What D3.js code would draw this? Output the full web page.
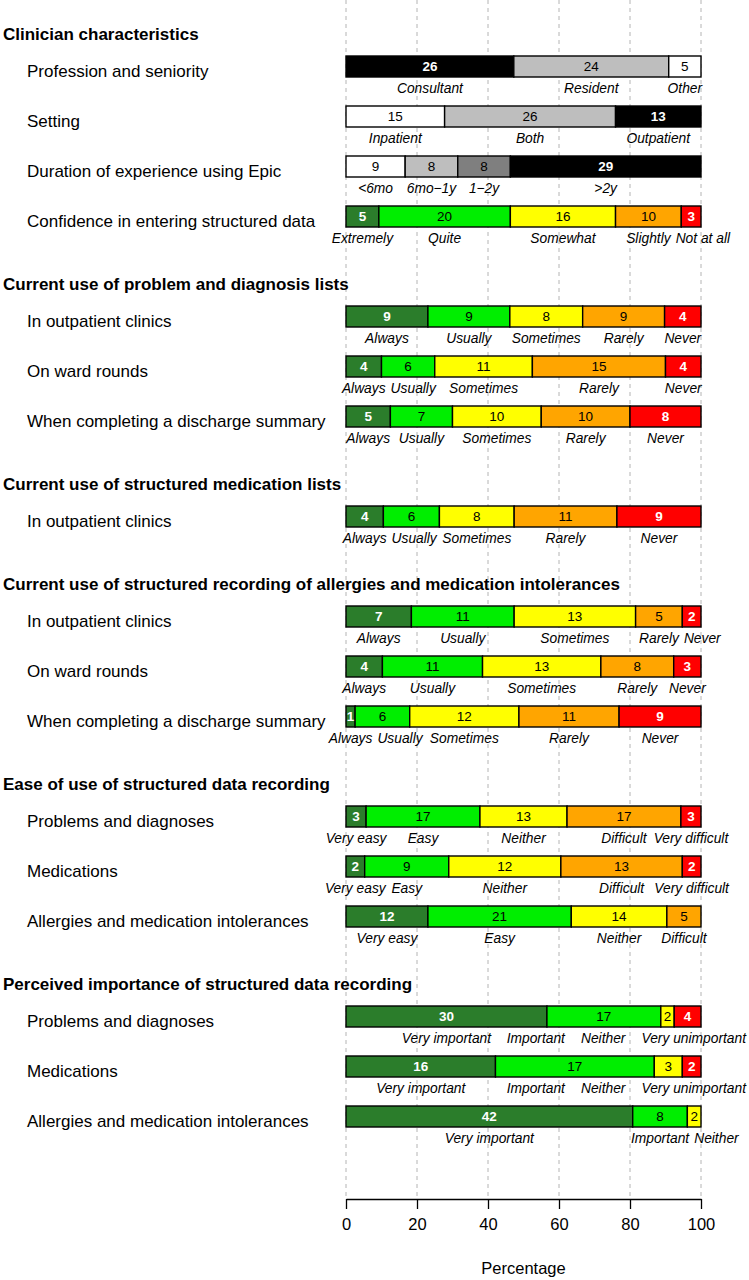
<!DOCTYPE html>
<html>
<head>
<meta charset="utf-8">
<title>Structured data survey</title>
<script src="https://d3js.org/d3.v7.min.js"></script>
<style>
    body { margin: 0; background: #fff; }
    text { font-family: "Liberation Sans", Arial, sans-serif; }
</style>
</head>
<body>
<div id="chart"></div>
<script>
// section headings
var sections = [
    "Clinician characteristics",
    "Current use of problem and diagnosis lists",
    "Current use of structured medication lists",
    "Current use of structured recording of allergies and medication intolerances",
    "Ease of use of structured data recording",
    "Perceived importance of structured data recording"
];

// one entry per bar
var questions = [
    "Profession and seniority",
    "Setting",
    "Duration of experience using Epic",
    "Confidence in entering structured data",
    "In outpatient clinics",
    "On ward rounds",
    "When completing a discharge summary",
    "In outpatient clinics",
    "In outpatient clinics",
    "On ward rounds",
    "When completing a discharge summary",
    "Problems and diagnoses",
    "Medications",
    "Allergies and medication intolerances",
    "Problems and diagnoses",
    "Medications",
    "Allergies and medication intolerances"
];
var questionSection = [0, 0, 0, 0, 1, 1, 1, 2, 3, 3, 3, 4, 4, 4, 5, 5, 5];

var answers = [
    ["Consultant", "Resident", "Other"],
    ["Inpatient", "Both", "Outpatient"],
    ["<6mo", "6mo\u22121y", "1\u22122y", ">2y"],
    ["Extremely", "Quite", "Somewhat", "Slightly", "Not at all"],
    ["Always", "Usually", "Sometimes", "Rarely", "Never"],
    ["Always", "Usually", "Sometimes", "Rarely", "Never"],
    ["Always", "Usually", "Sometimes", "Rarely", "Never"],
    ["Always", "Usually", "Sometimes", "Rarely", "Never"],
    ["Always", "Usually", "Sometimes", "Rarely", "Never"],
    ["Always", "Usually", "Sometimes", "Rarely", "Never"],
    ["Always", "Usually", "Sometimes", "Rarely", "Never"],
    ["Very easy", "Easy", "Neither", "Difficult", "Very difficult"],
    ["Very easy", "Easy", "Neither", "Difficult", "Very difficult"],
    ["Very easy", "Easy", "Neither", "Difficult"],
    ["Very important", "Important", "Neither", "Very unimportant"],
    ["Very important", "Important", "Neither", "Very unimportant"],
    ["Very important", "Important", "Neither"]
];

var counts = [
    [26, 24, 5],
    [15, 26, 13],
    [9, 8, 8, 29],
    [5, 20, 16, 10, 3],
    [9, 9, 8, 9, 4],
    [4, 6, 11, 15, 4],
    [5, 7, 10, 10, 8],
    [4, 6, 8, 11, 9],
    [7, 11, 13, 5, 2],
    [4, 11, 13, 8, 3],
    [1, 6, 12, 11, 9],
    [3, 17, 13, 17, 3],
    [2, 9, 12, 13, 2],
    [12, 21, 14, 5],
    [30, 17, 2, 4],
    [16, 17, 3, 2],
    [42, 8, 2]
];

var xTicks = [0, 20, 40, 60, 80, 100];

// answer -> fill colour
var colour = d3.scaleOrdinal()
    .domain(["Consultant", "Resident", "Other", "Inpatient", "Both", "Outpatient",
             "<6mo", "6mo\u22121y", "1\u22122y", ">2y",
             "Extremely", "Always", "Very easy", "Very important",
             "Quite", "Usually", "Easy", "Important",
             "Somewhat", "Sometimes", "Neither",
             "Slightly", "Rarely", "Difficult",
             "Not at all", "Never", "Very difficult", "Very unimportant"])
    .range(["#000000", "#bebebe", "#ffffff", "#ffffff", "#bebebe", "#000000",
            "#ffffff", "#bebebe", "#7f7f7f", "#000000",
            "#2b7d2b", "#2b7d2b", "#2b7d2b", "#2b7d2b",
            "#00ee00", "#00ee00", "#00ee00", "#00ee00",
            "#ffff00", "#ffff00", "#ffff00",
            "#ffa500", "#ffa500", "#ffa500",
            "#ff0000", "#ff0000", "#ff0000", "#ff0000"]);
var darkFills = ["#000000", "#2b7d2b", "#ff0000"];

var width = 749, height = 1280;
var barH = 21;
var axisY = 1199;

var svg = d3.select("#chart").append("svg")
    .attr("width", width)
    .attr("height", height);

var x = d3.scaleLinear().domain([0, 100]).range([346, 701]);
// row slot -> y of bar centre
var y = d3.scaleLinear().domain([0, 1]).range([66.5, 116.5]);

// work out slot of each row (a new section takes an extra slot)
var slots = [];
var s = 0;
questions.forEach(function(q, i) {
    if (i > 0) s += (questionSection[i] != questionSection[i - 1]) ? 2 : 1;
    slots.push(s);
});

// dashed grid
svg.append("g").selectAll("line")
    .data(xTicks)
    .enter().append("line")
    .attr("x1", function(d) { return x(d); })
    .attr("x2", function(d) { return x(d); })
    .attr("y1", 0)
    .attr("y2", axisY)
    .attr("stroke", "#b4b4b4")
    .attr("stroke-width", 1)
    .attr("stroke-dasharray", "4,4");

// section headings
sections.forEach(function(title, k) {
    var first = questionSection.indexOf(k);
    svg.append("text")
        .attr("x", 3)
        .attr("y", y(slots[first]) - 32)
        .attr("dy", "0.35em")
        .style("font-size", "17px")
        .style("font-weight", "bold")
        .text(title);
});

questions.forEach(function(q, i) {
    var cy = y(slots[i]);
    var total = d3.sum(counts[i]);
    var cum = 0;
    var segs = counts[i].map(function(v, j) {
        var seg = { n: v, name: answers[i][j], p0: cum / total * 100, p1: (cum + v) / total * 100 };
        cum += v;
        return seg;
    });

    // question label
    svg.append("text")
        .attr("x", 27)
        .attr("y", cy + 4.5)
        .attr("dy", "0.35em")
        .style("font-size", "17px")
        .text(q);

    var g = svg.append("g");

    g.selectAll("rect")
        .data(segs)
        .enter().append("rect")
        .attr("x", function(d) { return x(d.p0); })
        .attr("width", function(d) { return x(d.p1) - x(d.p0); })
        .attr("y", cy - barH / 2)
        .attr("height", barH)
        .attr("fill", function(d) { return colour(d.name); })
        .attr("stroke", "#000")
        .attr("stroke-width", 1.4);

    g.selectAll("text.n")
        .data(segs)
        .enter().append("text")
        .attr("class", "n")
        .attr("x", function(d) { return x((d.p0 + d.p1) / 2); })
        .attr("y", cy)
        .attr("dy", "0.36em")
        .attr("text-anchor", "middle")
        .style("font-size", "13.5px")
        .style("font-weight", function(d) { return darkFills.indexOf(colour(d.name)) >= 0 ? "bold" : "normal"; })
        .attr("fill", function(d) { return darkFills.indexOf(colour(d.name)) >= 0 ? "#fff" : "#000"; })
        .text(function(d) { return d.n; });

    // answer labels under the bar, nudged apart where they would overlap
    var labels = g.selectAll("text.lab")
        .data(segs)
        .enter().append("text")
        .attr("class", "lab")
        .attr("y", cy + 22)
        .attr("dy", "0.35em")
        .attr("text-anchor", "middle")
        .style("font-size", "13.8px")
        .style("font-style", "italic")
        .text(function(d) { return d.name; });

    var pos = [], half = [];
    labels.each(function(d) {
        half.push(this.getComputedTextLength() / 2);
        pos.push(x((d.p0 + d.p1) / 2));
    });
    // left to right: push right
    for (var j = 1; j < pos.length; j++) {
        var minX = pos[j - 1] + half[j - 1] + 5 + half[j];
        if (pos[j] < minX) pos[j] = minX;
    }
    // right to left: keep inside the page, push left
    var last = pos.length - 1;
    if (pos[last] + half[last] > 746) pos[last] = 746 - half[last];
    for (var j = last - 1; j >= 0; j--) {
        var maxX = pos[j + 1] - half[j + 1] - 16 - half[j];
        if (pos[j] > maxX && pos[j] + half[j] + 5 > pos[j + 1] - half[j + 1]) pos[j] = maxX;
    }
    labels.attr("x", function(d, j) { return pos[j]; });
});

// x axis
var axis = svg.append("g")
    .attr("transform", "translate(0," + axisY + ")")
    .call(d3.axisBottom(x).tickValues(xTicks).tickSize(10).tickSizeOuter(0).tickPadding(9));
axis.select(".domain").attr("stroke", "#000").attr("stroke-width", 1.3);
axis.selectAll(".tick line").attr("stroke", "#000").attr("stroke-width", 1.3);
axis.selectAll(".tick text")
    .attr("fill", "#000")
    .style("font-size", "16.5px")
    .style("font-family", "'Liberation Sans', Arial, sans-serif");

svg.append("text")
    .attr("x", x(50))
    .attr("y", 1268)
    .attr("dy", "0.35em")
    .attr("text-anchor", "middle")
    .style("font-size", "16.5px")
    .text("Percentage");
</script>
</body>
</html>
